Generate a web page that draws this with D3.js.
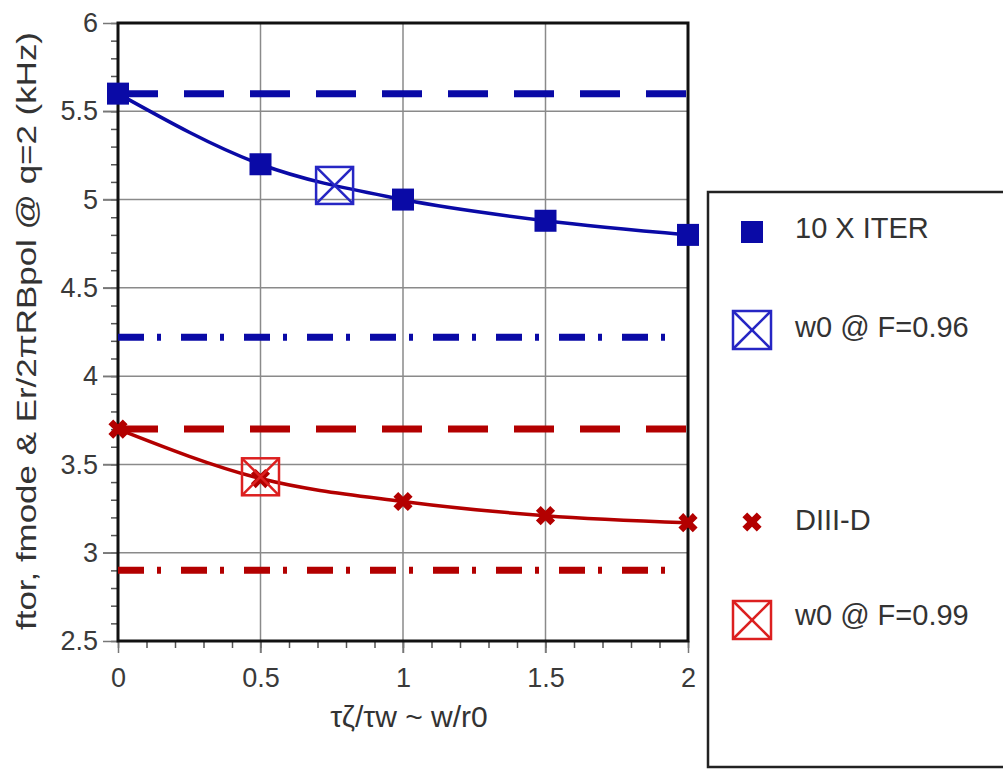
<!DOCTYPE html>
<html>
<head>
<meta charset="utf-8">
<script src="https://cdn.jsdelivr.net/npm/d3@7"></script>
<style>
  body { margin: 0; background: #fff; }
  svg { font-family: "Liberation Sans", Arial, sans-serif; }
</style>
</head>
<body>
<div id="chart"></div>
<script>
// data
const xValues = [0, 0.5, 1, 1.5, 2];
const iterValues = [5.6, 5.2, 5.0, 4.88, 4.8];
const diiidValues = [3.7, 3.42, 3.29, 3.21, 3.17];
const iterW0 = [0.76, 5.08];
const diiidW0 = [0.5, 3.43];
const iterDashed = 5.6, iterDashDot = 4.22;
const diiidDashed = 3.7, diiidDashDot = 2.9;
const xTicks = [0, 0.5, 1, 1.5, 2];
const yTicks = [2.5, 3, 3.5, 4, 4.5, 5, 5.5, 6];
const legendLabels = ["10 X ITER", "w0 @ F=0.96", "DIII-D", "w0 @ F=0.99"];

const width = 1003, height = 769;
const blue = "#0a0aa6", blueOpen = "#2626c4";
const red = "#b30000", redOpen = "#dc2020";

const svg = d3.select("#chart").append("svg")
    .attr("width", width)
    .attr("height", height);

// scales
const x = d3.scaleLinear().domain([0, 2]).range([118, 688]);
const y = d3.scaleLinear().domain([2.5, 6]).range([641, 23]);

// grid
svg.append("g")
    .selectAll("line")
    .data(yTicks.slice(1, -1))
    .join("line")
    .attr("x1", x(0) - 15).attr("x2", x(2))
    .attr("y1", d => y(d)).attr("y2", d => y(d))
    .attr("stroke", "#8a8a8a").attr("stroke-width", 1.5);

svg.append("g")
    .selectAll("line")
    .data(xTicks.slice(1, -1))
    .join("line")
    .attr("x1", d => x(d)).attr("x2", d => x(d))
    .attr("y1", y(6)).attr("y2", y(2.5) + 12)
    .attr("stroke", "#8a8a8a").attr("stroke-width", 1.5);

// axes with minor ticks
const minorY = d3.range(25, 61).map(d => d / 10);
const minorX = d3.range(0, 21).map(d => d / 10);

svg.append("g")
    .attr("transform", `translate(${x(0)},0)`)
    .call(d3.axisLeft(y).tickValues(minorY).tickSize(7).tickFormat(""))
    .call(g => g.select(".domain").remove())
    .selectAll("line").attr("stroke", "#555").attr("stroke-width", 1.5);

svg.append("g")
    .attr("transform", `translate(0,${y(2.5)})`)
    .call(d3.axisBottom(x).tickValues(minorX).tickSize(7).tickFormat(""))
    .call(g => g.select(".domain").remove())
    .selectAll("line").attr("stroke", "#555").attr("stroke-width", 1.5);

const yAxis = svg.append("g")
    .attr("transform", `translate(${x(0)},0)`)
    .call(d3.axisLeft(y).tickValues(yTicks).tickSize(15).tickPadding(5).tickFormat(d3.format("")));
yAxis.select(".domain").remove();
yAxis.selectAll("line").attr("stroke", "#777").attr("stroke-width", 1.5);
yAxis.selectAll("text").attr("font-size", 27).attr("fill", "#3a3a3a")
    .attr("font-family", "Liberation Sans, Arial, sans-serif");

const xAxis = svg.append("g")
    .attr("transform", `translate(0,${y(2.5)})`)
    .call(d3.axisBottom(x).tickValues(xTicks).tickSize(12).tickPadding(15).tickFormat(d3.format("")));
xAxis.select(".domain").remove();
xAxis.selectAll("line").attr("stroke", "#777").attr("stroke-width", 1.5);
xAxis.selectAll("text").attr("font-size", 27).attr("fill", "#3a3a3a")
    .attr("font-family", "Liberation Sans, Arial, sans-serif");

// frame
svg.append("rect")
    .attr("x", x(0)).attr("y", y(6))
    .attr("width", x(2) - x(0)).attr("height", y(2.5) - y(6))
    .attr("fill", "none").attr("stroke", "#111").attr("stroke-width", 3);

// reference lines
function hline(val, color, dash, x2) {
    svg.append("line")
        .attr("x1", x(0)).attr("x2", x(x2))
        .attr("y1", y(val)).attr("y2", y(val))
        .attr("stroke", color).attr("stroke-width", 7)
        .attr("stroke-dasharray", dash);
}
hline(iterDashed, blue, "40,26", 2);
hline(iterDashDot, blue, "26,13,4,20", 1.95);
hline(diiidDashed, red, "40,26", 2);
hline(diiidDashDot, red, "26,13,4,20", 1.95);

// curves
const line = d3.line()
    .x((d, i) => x(xValues[i]))
    .y(d => y(d))
    .curve(d3.curveMonotoneX);

svg.append("path").attr("d", line(iterValues))
    .attr("fill", "none").attr("stroke", blue).attr("stroke-width", 3.5);
svg.append("path").attr("d", line(diiidValues))
    .attr("fill", "none").attr("stroke", red).attr("stroke-width", 3.5);

// markers
const cross = d3.symbol().type(d3.symbolCross).size(230);

svg.append("g")
    .selectAll("rect")
    .data(iterValues)
    .join("rect")
    .attr("x", (d, i) => x(xValues[i]) - 11)
    .attr("y", d => y(d) - 11)
    .attr("width", 22).attr("height", 22)
    .attr("fill", blue);

svg.append("g")
    .selectAll("path")
    .data(diiidValues)
    .join("path")
    .attr("d", cross)
    .attr("transform", (d, i) => `translate(${x(xValues[i])},${y(d)}) rotate(45)`)
    .attr("fill", red);

function openBox(cx, cy, s, color) {
    const g = svg.append("g").attr("transform", `translate(${cx},${cy})`)
        .attr("stroke", color).attr("stroke-width", 2.5).attr("fill", "none");
    g.append("rect").attr("x", -s / 2).attr("y", -s / 2).attr("width", s).attr("height", s);
    g.append("line").attr("x1", -s / 2).attr("y1", -s / 2).attr("x2", s / 2).attr("y2", s / 2);
    g.append("line").attr("x1", -s / 2).attr("y1", s / 2).attr("x2", s / 2).attr("y2", -s / 2);
}
openBox(x(iterW0[0]), y(iterW0[1]), 37, blueOpen);
openBox(x(diiidW0[0]), y(diiidW0[1]), 37, redOpen);

// axis titles
svg.append("text")
    .attr("x", 409).attr("y", 727)
    .attr("text-anchor", "middle")
    .attr("font-size", 30).attr("fill", "#333")
    .text("τζ/τw ~ w/r0");

svg.append("text")
    .attr("transform", `translate(36,331) rotate(-90)`)
    .attr("text-anchor", "middle")
    .attr("font-size", 28).attr("fill", "#333")
    .attr("textLength", 598).attr("lengthAdjust", "spacingAndGlyphs")
    .text("ftor, fmode & Er/2πRBpol @ q=2 (kHz)");

// legend
svg.append("rect")
    .attr("x", 708).attr("y", 192)
    .attr("width", 320).attr("height", 575)
    .attr("fill", "#fff").attr("stroke", "#222").attr("stroke-width", 2.5);

const legendY = [232, 330, 522, 620];
const lg = svg.append("g");
lg.append("rect").attr("x", 741).attr("y", legendY[0] - 11)
    .attr("width", 22).attr("height", 22).attr("fill", blue);
openBox(752, legendY[1], 38, blueOpen);
lg.append("path").attr("d", cross)
    .attr("transform", `translate(752,${legendY[2]}) rotate(45)`).attr("fill", red);
openBox(752, legendY[3], 38, redOpen);

lg.selectAll("text")
    .data(legendLabels)
    .join("text")
    .attr("x", 795)
    .attr("y", (d, i) => legendY[i] + [6, 7, 8, 5][i])
    .attr("font-size", 29).attr("fill", "#333")
    .text(d => d);
</script>
</body>
</html>
